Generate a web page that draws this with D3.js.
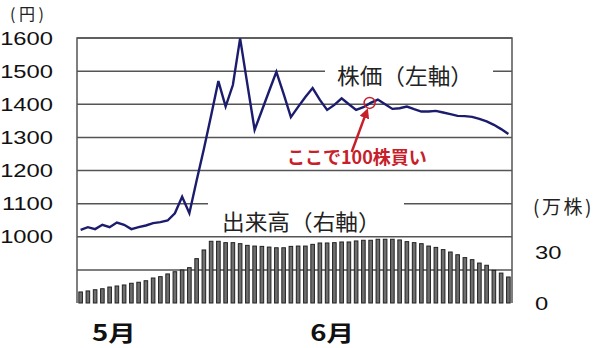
<!DOCTYPE html>
<html>
<head>
<meta charset="utf-8">
<script src="https://cdn.jsdelivr.net/npm/d3@7"></script>
<style>
  body { margin: 0; background: #fff; }
  text { font-family: "Liberation Sans", Arial, sans-serif; }
  .jp { font-family: "Noto Sans CJK JP", sans-serif; }
</style>
</head>
<body>
<svg width="600" height="348"></svg>
<script>
// 株価 (円) per day, 60 trading days
var price = [1021, 1029, 1023, 1036, 1029, 1043, 1036, 1023, 1029, 1034,
  1041, 1044, 1049, 1071, 1121, 1071, 1170, 1265, 1366, 1470,
  1393, 1458, 1599, 1460, 1323, 1381, 1440, 1498, 1431, 1361,
  1392, 1422, 1449, 1413, 1383, 1398, 1418, 1400, 1383, 1391,
  1404, 1414, 1400, 1386, 1388, 1393, 1385, 1378, 1378, 1380,
  1375, 1370, 1365, 1364, 1362, 1356, 1348, 1338, 1325, 1310];
// 出来高 (万株)
var volume = [6.5, 7.1, 7.8, 8.4, 9.4, 10.0, 10.6, 11.6, 12.2, 13.1,
  14.7, 15.5, 17.1, 18.4, 19.4, 20.8, 26.1, 31.2, 36.3, 36.3,
  35.5, 35.5, 34.9, 33.9, 33.5, 33.3, 32.9, 32.5, 32.5, 33.3,
  33.5, 33.5, 34.5, 35.3, 35.3, 35.5, 35.9, 35.9, 36.5, 36.9,
  36.9, 37.5, 37.5, 37.5, 37.1, 36.1, 35.5, 34.9, 33.5, 32.7,
  31.4, 30.0, 28.4, 26.7, 25.5, 23.5, 22.2, 19.2, 17.6, 15.3];
var priceTicks = [1000, 1100, 1200, 1300, 1400, 1500, 1600];
var gridTicks = [900, 1000, 1100, 1200, 1300, 1400, 1500, 1600];
var volumeTicks = [0, 30];
var months = ["5月", "6月"];
var monthAt = [4.6, 34.7];
var buyIndex = 40;

var svg = d3.select("svg");
var plotL = 77, plotR = 512, plotT = 38, plotB = 303;

var x = d3.scaleLinear().domain([-0.5, price.length - 0.5]).range([plotL, plotR]);
var y = d3.scaleLinear().domain([800, 1600]).range([plotB, plotT]);
var yv = d3.scaleLinear().domain([0, 30]).range([plotB, 252]);

// stretch text horizontally like the original
function stretch(sel, k) {
  sel.each(function() {
    var len = this.getComputedTextLength();
    d3.select(this).attr("textLength", len * k).attr("lengthAdjust", "spacingAndGlyphs");
  });
}

// grid lines
svg.append("g").selectAll("line").data(gridTicks).enter().append("line")
  .attr("x1", plotL).attr("x2", plotR)
  .attr("y1", function(d){ return y(d); }).attr("y2", function(d){ return y(d); })
  .attr("stroke", "#555").attr("stroke-width", 1.5);

// frame
svg.append("path")
  .attr("d", "M" + plotL + "," + plotB + "V" + plotT + "H" + plotR + "V" + plotB)
  .attr("fill", "none").attr("stroke", "#555").attr("stroke-width", 1.5);

// white boxes behind the series labels
svg.append("rect").attr("x", 325).attr("y", 58).attr("width", 168).attr("height", 30).attr("fill", "#fff");
svg.append("rect").attr("x", 208).attr("y", 194).attr("width", 196).attr("height", 36).attr("fill", "#fff");

// volume bars
svg.append("g").selectAll("rect").data(volume).enter().append("rect")
  .attr("x", function(d, i){ return x(i) - 1.8; })
  .attr("width", 3.6)
  .attr("y", function(d){ return yv(d); })
  .attr("height", function(d){ return plotB - yv(d); })
  .attr("fill", "#6e6e6e").attr("stroke", "#222").attr("stroke-width", 1);

// price line
var line = d3.line().x(function(d, i){ return x(i); }).y(function(d){ return y(d); });
svg.append("path").datum(price).attr("d", line)
  .attr("fill", "none").attr("stroke", "#1c1c6e").attr("stroke-width", 2.4)
  .attr("stroke-linejoin", "miter");

// left axis labels
var ax = svg.append("g").attr("transform", "translate(" + plotL + ",0)")
  .call(d3.axisLeft(y).tickValues(priceTicks).tickSize(0).tickPadding(24).tickFormat(d3.format("d")));
ax.select(".domain").remove();
ax.selectAll("text").attr("font-size", 19).attr("fill", "#111")
  .attr("font-family", "'Liberation Sans', Arial, sans-serif").call(stretch, 1.25);

// right axis labels
var ar = svg.append("g").attr("transform", "translate(535,0)")
  .call(d3.axisRight(yv).tickValues(volumeTicks).tickSize(0).tickPadding(0));
ar.select(".domain").remove();
ar.selectAll("text").attr("font-size", 19).attr("fill", "#111")
  .attr("font-family", "'Liberation Sans', Arial, sans-serif").call(stretch, 1.25);

// units
svg.append("text").attr("class", "jp").attr("x", 10).attr("y", 20).attr("font-size", 16)
  .attr("letter-spacing", 3.5).attr("fill", "#222").text("(円)");
svg.append("text").attr("class", "jp").attr("x", 533).attr("y", 214).attr("font-size", 19)
  .attr("letter-spacing", 2.5).attr("fill", "#222").text("(万株)");

// series labels
svg.append("text").attr("class", "jp").attr("x", 337).attr("y", 84).attr("font-size", 22).attr("fill", "#222").text("株価（左軸）").call(stretch, 1.03);
svg.append("text").attr("class", "jp").attr("x", 222).attr("y", 230).attr("font-size", 22).attr("fill", "#222").text("出来高（右軸）").call(stretch, 1.03);

// month labels
svg.append("g").selectAll("text").data(months).enter().append("text")
  .attr("class", "jp")
  .attr("x", function(d, i){ return x(monthAt[i]); })
  .attr("y", 341).attr("text-anchor", "middle")
  .attr("font-size", 22).attr("font-weight", "bold").attr("fill", "#111")
  .text(function(d){ return d; }).call(stretch, 1.25);

// buy annotation
var red = "#c8202a";
svg.append("defs").append("marker").attr("id", "ah")
  .attr("viewBox", "0 0 10 10").attr("refX", 5).attr("refY", 5)
  .attr("markerWidth", 4).attr("markerHeight", 4).attr("orient", "auto")
  .append("path").attr("d", "M0,0L10,5L0,10z").attr("fill", red);
svg.append("line").attr("x1", 351.7).attr("y1", 152)
  .attr("x2", x(buyIndex) - 4.5).attr("y2", y(price[buyIndex]) + 10)
  .attr("stroke", red).attr("stroke-width", 2.5).attr("marker-end", "url(#ah)");
svg.append("circle").attr("cx", x(buyIndex) - 1).attr("cy", y(price[buyIndex]))
  .attr("r", 5.5).attr("fill", "none").attr("stroke", red).attr("stroke-width", 1.5);
svg.append("text").attr("class", "jp").attr("x", 287).attr("y", 164)
  .attr("font-size", 18).attr("font-weight", "bold").attr("fill", red)
  .text("ここで100株買い");
</script>
</body>
</html>
